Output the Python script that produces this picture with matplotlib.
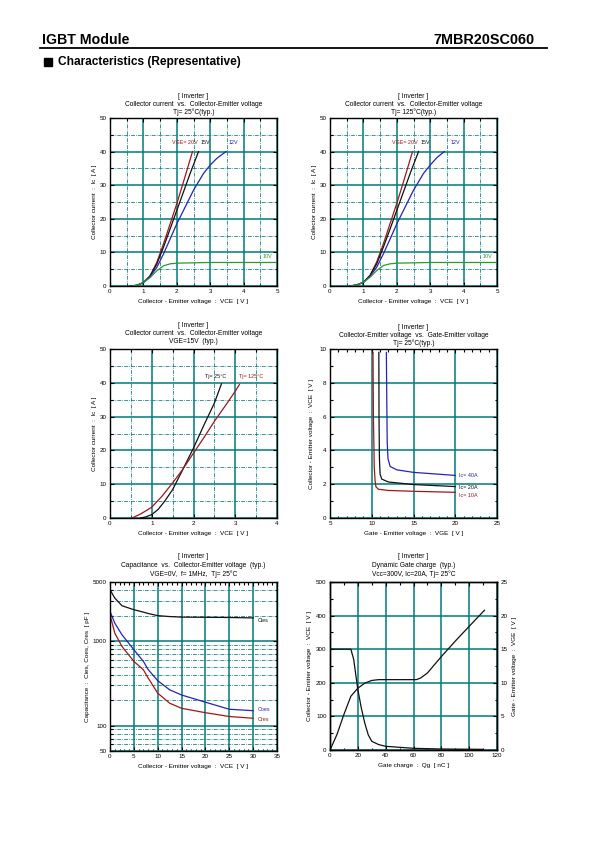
import matplotlib
matplotlib.use("Agg")
import matplotlib.pyplot as plt
from matplotlib.ticker import MultipleLocator, FixedLocator, NullFormatter, FixedFormatter
import numpy as np

plt.rcParams['font.family'] = ['Liberation Sans', 'DejaVu Sans']

# ---------------- data ----------------
# Plot 1: Ic vs VCE, Tj=25C
vce_20_25 = [0.6, 0.8, 1.0, 1.2, 1.4, 1.6, 1.8, 2.0, 2.2, 2.47]
ic_20_25 = [0.0, 0.2, 1.0, 3.0, 7.0, 12.5, 18.5, 24.5, 31.0, 40.0]
vce_15_25 = [0.6, 0.8, 1.0, 1.2, 1.4, 1.6, 1.8, 2.0, 2.2, 2.4, 2.65]
ic_15_25 = [0.0, 0.2, 1.0, 3.0, 6.5, 11.5, 17.0, 22.5, 28.0, 33.5, 40.0]
vce_12_25 = [0.6, 0.8, 1.0, 1.2, 1.4, 1.6, 1.8, 2.0, 2.2, 2.5, 2.8, 3.0, 3.2, 3.47]
ic_12_25 = [0.0, 0.2, 1.0, 2.8, 5.5, 9.5, 14.0, 18.5, 22.5, 28.5, 33.5, 36.0, 38.0, 40.0]
vce_10_25 = [0.6, 0.8, 1.0, 1.2, 1.4, 1.6, 1.8, 2.0, 2.5, 3.0, 4.0, 5.0]
ic_10_25 = [0.0, 0.2, 1.0, 2.5, 4.5, 6.0, 6.6, 6.8, 6.9, 7.0, 7.0, 7.0]

# Plot 2: Ic vs VCE, Tj=125C
vce_20_125 = [0.6, 0.8, 1.0, 1.2, 1.4, 1.6, 1.8, 2.0, 2.2, 2.47]
ic_20_125 = [0.0, 0.3, 1.1, 3.2, 7.2, 12.6, 18.6, 24.6, 31.0, 40.0]
vce_15_125 = [0.6, 0.8, 1.0, 1.2, 1.4, 1.6, 1.8, 2.0, 2.2, 2.4, 2.65]
ic_15_125 = [0.0, 0.3, 1.1, 3.1, 6.6, 11.6, 17.0, 22.5, 28.0, 33.5, 40.0]
vce_12_125 = [0.6, 0.8, 1.0, 1.2, 1.4, 1.6, 1.8, 2.0, 2.2, 2.5, 2.8, 3.0, 3.2, 3.42]
ic_12_125 = [0.0, 0.3, 1.1, 2.9, 5.6, 9.6, 14.0, 18.5, 22.5, 28.5, 33.5, 36.0, 38.2, 40.0]
vce_10_125 = [0.6, 0.8, 1.0, 1.2, 1.4, 1.6, 1.8, 2.0, 2.5, 3.0, 4.0, 5.0]
ic_10_125 = [0.0, 0.3, 1.1, 2.6, 4.6, 6.1, 6.6, 6.8, 6.9, 7.0, 7.0, 7.0]

# Plot 3: Ic vs VCE at VGE=15V
vce_tj25 = [0.73, 0.85, 1.0, 1.15, 1.3, 1.5, 1.75, 2.0, 2.25, 2.5, 2.67]
ic_tj25 = [0.0, 0.3, 1.0, 2.5, 4.8, 8.4, 14.5, 20.7, 27.5, 34.0, 39.7]
vce_tj125 = [0.53, 0.75, 1.0, 1.25, 1.5, 1.72, 2.0, 2.25, 2.5, 2.75, 3.0, 3.1]
ic_tj125 = [0.0, 1.3, 3.2, 6.5, 10.4, 14.0, 19.2, 23.8, 28.6, 33.0, 37.5, 39.5]

# Plot 4: VCE vs VGE
vge_10a = [10.15, 10.2, 10.3, 10.4, 10.5, 10.8, 12.0, 15.0, 20.0]
vce_10a = [9.8, 6.0, 3.0, 2.2, 1.85, 1.7, 1.63, 1.58, 1.52]
vge_20a = [10.85, 10.87, 10.92, 11.0, 11.2, 12.0, 15.0, 20.0]
vce_20a = [9.8, 6.0, 3.5, 2.6, 2.3, 2.13, 1.98, 1.86]
vge_40a = [11.75, 11.8, 11.85, 11.95, 12.2, 13.0, 15.0, 20.0]
vce_40a = [9.8, 7.0, 4.5, 3.5, 3.05, 2.85, 2.7, 2.52]

# Plot 5: capacitance
vce_cap = [0, 1, 2.5, 5, 7, 8, 10, 12.5, 15, 20, 25, 30]
cies = [4050, 3230, 2620, 2350, 2200, 2120, 2000, 1950, 1920, 1910, 1900, 1880]
coes = [2245, 1630, 1190, 790, 575, 460, 340, 265, 230, 189, 156, 150]
cres = [2050, 1245, 865, 575, 457, 365, 242, 184, 160, 142, 128, 122]

# Plot 6: gate charge
qg_vce = [0, 15, 17, 20, 22.5, 25, 27.5, 30, 35, 40, 60, 80, 110]
vce_qg = [300, 300, 270, 180, 125, 80, 45, 26, 16, 11, 5, 3, 2]
qg_vge = [0, 5, 10, 15, 20, 25, 30, 35, 62, 65, 70, 80, 90, 100, 111]
vge_qg = [0, 2.3, 5.3, 8.0, 9.2, 9.95, 10.35, 10.47, 10.47, 10.7, 11.46, 13.9, 16.2, 18.4, 20.8]

# ---------------- figure ----------------
W, H = 595, 842
fig = plt.figure(figsize=(W / 100, H / 100), dpi=100)

TEAL = '#007b7b'
RED = '#a01818'
BLUE = '#2424b8'
GREEN = '#2a9a2a'
BLK = '#111111'
FS_T = 4.5
FS_L = 4.6
FS_C = 3.9


def fx(x):
    return x / W


def fy(y):
    return 1 - y / H


def make_ax(x0, y0, x1, y1):
    ax = fig.add_axes([fx(x0), fy(y1), (x1 - x0) / W, (y1 - y0) / H])
    for s in ax.spines.values():
        s.set_linewidth(1.0)
        s.set_zorder(5)
    ax.tick_params(which='both', direction='in', top=True, right=True,
                   labelsize=FS_T, pad=2.5, width=0.8)
    ax.tick_params(which='major', length=3)
    ax.tick_params(which='minor', length=1.8)
    return ax


def titles(cx, ytop, lines, step=8):
    for i, t in enumerate(lines):
        fig.text(fx(cx), fy(ytop + step * i), t, ha='center', va='center', fontsize=4.8)


# header
fig.text(fx(42), fy(40), 'IGBT Module', fontsize=10.2, fontweight='bold', va='center', ha='left')
fig.text(fx(535), fy(40), '7MBR20SC060', fontsize=10.4, fontweight='bold', va='center', ha='right')
fig.add_artist(plt.Line2D([fx(40), fx(547)], [fy(48), fy(48)], color='black', lw=1.3))
fig.add_artist(plt.Rectangle((fx(44), fy(66)), 8 / W, 8 / H, color='black'))
fig.text(fx(58), fy(62), 'Characteristics (Representative)', fontsize=8.6, fontweight='bold',
         va='center', ha='left')


def ic_vce_axes(x0, x1, y0, y1, xmax):
    ax = make_ax(x0, y0, x1, y1)
    ax.set_xlim(0, xmax)
    ax.set_ylim(0, 50)
    ax.xaxis.set_major_locator(MultipleLocator(1))
    ax.xaxis.set_minor_locator(MultipleLocator(0.5))
    ax.yaxis.set_major_locator(MultipleLocator(10))
    ax.yaxis.set_minor_locator(MultipleLocator(5))
    ax.grid(which='major', color=TEAL, lw=1.1, ls='-')
    ax.grid(which='minor', color=TEAL, lw=0.55, ls=(0, (5, 1.5, 1, 1.5)))
    ax.set_axisbelow(True)
    ax.set_xlabel('Collector - Emitter voltage  :  VCE  [ V ]', fontsize=FS_L, labelpad=3)
    ax.set_ylabel('Collector current  :  Ic  [ A ]', fontsize=FS_L, labelpad=2)
    return ax


# ---- Plot 1
ax1 = ic_vce_axes(110, 277, 118, 286, 5)
ax1.plot(vce_20_25, ic_20_25, color=RED, lw=0.9)
ax1.plot(vce_15_25, ic_15_25, color=BLK, lw=0.9)
ax1.plot(vce_12_25, ic_12_25, color=BLUE, lw=0.9)
ax1.plot(vce_10_25, ic_10_25, color=GREEN, lw=0.9)
ax1.text(1.86, 42.6, 'VGE= 20V', color=RED, fontsize=FS_C, ha='left', va='center')
ax1.text(2.7, 42.6, '15V', color=BLK, fontsize=FS_C, ha='left', va='center')
ax1.text(3.56, 42.6, '12V', color=BLUE, fontsize=FS_C, ha='left', va='center')
ax1.text(4.58, 8.9, '10V', color=GREEN, fontsize=FS_C, ha='left', va='center')
titles(193.5, 96, ['[ Inverter ]', 'Collector current  vs.  Collector-Emitter voltage',
                   'Tj= 25°C(typ.)'])

# ---- Plot 2
ax2 = ic_vce_axes(330, 497, 118, 286, 5)
ax2.plot(vce_20_125, ic_20_125, color=RED, lw=0.9)
ax2.plot(vce_15_125, ic_15_125, color=BLK, lw=0.9)
ax2.plot(vce_12_125, ic_12_125, color=BLUE, lw=0.9)
ax2.plot(vce_10_125, ic_10_125, color=GREEN, lw=0.9)
ax2.text(1.86, 42.6, 'VGE= 20V', color=RED, fontsize=FS_C, ha='left', va='center')
ax2.text(2.72, 42.6, '15V', color=BLK, fontsize=FS_C, ha='left', va='center')
ax2.text(3.6, 42.6, '12V', color=BLUE, fontsize=FS_C, ha='left', va='center')
ax2.text(4.58, 8.9, '10V', color=GREEN, fontsize=FS_C, ha='left', va='center')
titles(413.5, 96, ['[ Inverter ]', 'Collector current  vs.  Collector-Emitter voltage',
                   'Tj= 125°C(typ.)'])

# ---- Plot 3
ax3 = ic_vce_axes(110, 277, 349, 518, 4)
ax3.plot(vce_tj25, ic_tj25, color=BLK, lw=0.9)
ax3.plot(vce_tj125, ic_tj125, color=RED, lw=0.9)
ax3.text(2.28, 42.0, 'Tj= 25°C', color=BLK, fontsize=FS_C, ha='left', va='center')
ax3.text(3.09, 42.0, 'Tj= 125°C', color=RED, fontsize=FS_C, ha='left', va='center')
titles(193.5, 325.5, ['[ Inverter ]', 'Collector current  vs.  Collector-Emitter voltage',
                      'VGE=15V  (typ.)'])

# ---- Plot 4
ax4 = make_ax(330, 349, 497, 518)
ax4.set_xlim(5, 25)
ax4.set_ylim(0, 10)
ax4.xaxis.set_major_locator(MultipleLocator(5))
ax4.xaxis.set_minor_locator(MultipleLocator(1))
ax4.yaxis.set_major_locator(MultipleLocator(2))
ax4.yaxis.set_minor_locator(MultipleLocator(1))
ax4.grid(which='major', color=TEAL, lw=1.1)
ax4.set_axisbelow(True)
ax4.plot(vge_10a, vce_10a, color=RED, lw=0.9)
ax4.plot(vge_20a, vce_20a, color=BLK, lw=0.9)
ax4.plot(vge_40a, vce_40a, color=BLUE, lw=0.9)
ax4.text(20.45, 2.5, 'Ic= 40A', color=BLUE, fontsize=FS_C, va='center')
ax4.text(20.45, 1.79, 'Ic= 20A', color=BLK, fontsize=FS_C, va='center')
ax4.text(20.45, 1.32, 'Ic= 10A', color=RED, fontsize=FS_C, va='center')
ax4.set_xlabel('Gate - Emitter voltage  :  VGE  [ V ]', fontsize=FS_L, labelpad=3)
ax4.set_ylabel('Collector - Emitter voltage  :  VCE  [ V ]', fontsize=FS_L, labelpad=4)
titles(413.5, 327.5, ['[ Inverter ]', 'Collector-Emitter voltage  vs.  Gate-Emitter voltage',
                      'Tj= 25°C(typ.)'])

# ---- Plot 5
ax5 = make_ax(110, 582, 277, 751)
ax5.set_yscale('log')
ax5.set_xlim(0, 35)
ax5.set_ylim(50, 5000)
ax5.xaxis.set_major_locator(MultipleLocator(5))
ax5.xaxis.set_minor_locator(MultipleLocator(1))
ax5.yaxis.set_minor_locator(FixedLocator([60, 70, 80, 90, 200, 300, 400, 500, 600, 700, 800,
                                          900, 2000, 3000, 4000]))
ax5.yaxis.set_minor_formatter(NullFormatter())
ax5.set_yticks([50, 100, 1000, 5000])
ax5.yaxis.set_major_formatter(FixedFormatter(['50', '100', '1000', '5000']))
ax5.grid(which='major', axis='x', color=TEAL, lw=1.1)
ax5.grid(which='major', axis='y', color=TEAL, lw=1.1)
ax5.grid(which='minor', axis='y', color=TEAL, lw=0.55, ls=(0, (5, 1.5, 1, 1.5)))
ax5.set_axisbelow(True)
ax5.plot(vce_cap, cies, color=BLK, lw=0.9)
ax5.plot(vce_cap, coes, color=BLUE, lw=0.9)
ax5.plot(vce_cap, cres, color=RED, lw=0.9)
ax5.text(31.0, 1775, 'Cies', color=BLK, fontsize=FS_C, va='center')
ax5.text(31.0, 156, 'Coes', color=BLUE, fontsize=FS_C, va='center')
ax5.text(31.0, 117, 'Cres', color=RED, fontsize=FS_C, va='center')
ax5.set_xlabel('Collector - Emitter voltage  :  VCE  [ V ]', fontsize=FS_L, labelpad=3)
ax5.set_ylabel('Capacitance  :  Cies, Coes, Cres  [ pF ]', fontsize=FS_L, labelpad=2)
titles(193.5, 556.5, ['[ Inverter ]', 'Capacitance  vs.  Collector-Emitter voltage  (typ.)',
                      'VGE=0V,  f= 1MHz,  Tj= 25°C'], step=8.8)

# ---- Plot 6
ax6 = make_ax(330, 582, 497, 750)
ax6.set_xlim(0, 120)
ax6.set_ylim(0, 500)
ax6.xaxis.set_major_locator(MultipleLocator(20))
ax6.xaxis.set_minor_locator(MultipleLocator(10))
ax6.yaxis.set_major_locator(MultipleLocator(100))
ax6.yaxis.set_minor_locator(MultipleLocator(50))
ax6.tick_params(which='both', right=False)
ax6.grid(which='major', color=TEAL, lw=1.1)
ax6.set_axisbelow(True)
ax6.plot(qg_vce, vce_qg, color=BLK, lw=0.9)
ax6.set_xlabel('Gate charge  :  Qg  [ nC ]', fontsize=FS_L, labelpad=3)
ax6.set_ylabel('Collector - Emitter voltage  :  VCE  [ V ]', fontsize=FS_L, labelpad=3)
ax6r = ax6.twinx()
ax6r.set_ylim(0, 25)
ax6r.yaxis.set_major_locator(MultipleLocator(5))
ax6r.yaxis.set_minor_locator(MultipleLocator(2.5))
ax6r.tick_params(which='both', direction='in', labelsize=FS_T, pad=2.5, width=0.8)
ax6r.tick_params(which='major', length=3)
ax6r.tick_params(which='minor', length=1.8)
for s in ax6r.spines.values():
    s.set_linewidth(1.0)
ax6r.plot(qg_vge, vge_qg, color=BLK, lw=0.9)
ax6r.set_ylabel('Gate - Emitter voltage  :  VGE  [ V ]', fontsize=FS_L, labelpad=3)
titles(413.5, 556.5, ['[ Inverter ]', 'Dynamic Gate charge  (typ.)',
                      'Vcc=300V, Ic=20A, Tj= 25°C'], step=8.8)

fig.savefig('out.png', dpi=100)
